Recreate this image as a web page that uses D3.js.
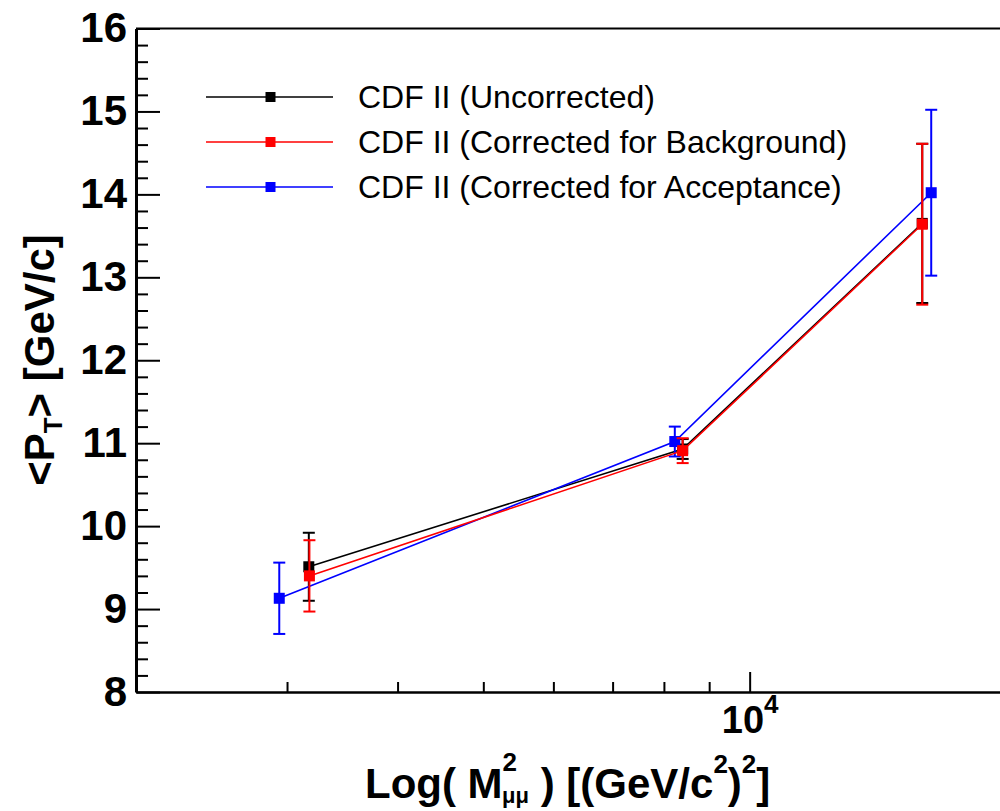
<!DOCTYPE html>
<html>
<head>
<meta charset="utf-8">
<script src="https://cdn.jsdelivr.net/npm/d3@7"></script>
<style>
  html, body { margin: 0; padding: 0; background: #fff; }
  svg { display: block; }
  text { font-family: "Liberation Sans", Arial, Helvetica, sans-serif; }
</style>
</head>
<body>
<svg id="chart" width="1000" height="811"></svg>
<script>
// Mean dimuon transverse momentum vs. squared invariant mass (CDF II)
const seriesNames = ["CDF II (Uncorrected)", "CDF II (Corrected for Background)", "CDF II (Corrected for Acceptance)"];
const seriesColors = ["#000000", "#ff0000", "#0000ff"];

// M^2 (GeV/c^2)^2 positions of the three mass bins, per series
const massUncorrected = [3175, 8400, 15670];
const massBackground  = [3180, 8400, 15670];
const massAcceptance  = [2940, 8230, 16040];

// <pT> values (GeV/c) and their errors
const ptUncorrected = [9.51, 10.93, 13.65];
const errUncorrected = [0.41, 0.12, 0.96];
const ptBackground  = [9.40, 10.91, 13.64];
const errBackground = [0.43, 0.15, 0.97];
const ptAcceptance  = [9.13, 11.02, 14.02];
const errAcceptance = [0.43, 0.18, 1.00];

const yMajorTicks = [8, 9, 10, 11, 12, 13, 14, 15, 16];
const xMajorTicks = [10000];
const xMinorTicks = [3000, 4000, 5000, 6000, 7000, 8000, 9000];

const series = [
  { name: seriesNames[0], color: seriesColors[0], x: massUncorrected, y: ptUncorrected, e: errUncorrected },
  { name: seriesNames[2], color: seriesColors[2], x: massAcceptance,  y: ptAcceptance,  e: errAcceptance },
  { name: seriesNames[1], color: seriesColors[1], x: massBackground,  y: ptBackground,  e: errBackground }
];

const svg = d3.select("#chart");
const plotLeft = 136, plotRight = 1016, plotTop = 28.5, plotBottom = 692;

const x = d3.scaleLog().domain([2025, 20000]).range([plotLeft, plotRight]);
const y = d3.scaleLinear().domain([8, 16]).range([plotBottom, plotTop]);

const yMinorTicks = d3.range(8, 16.001, 0.2).map(v => +v.toFixed(1)).filter(v => !yMajorTicks.includes(v));

// frame: top border
svg.append("line")
  .attr("x1", plotLeft).attr("x2", plotRight)
  .attr("y1", plotTop).attr("y2", plotTop)
  .attr("stroke", "#000").attr("stroke-width", 2);

// y axis (ticks pointing into the plot)
const yAxis = svg.append("g").attr("transform", `translate(${plotLeft},0)`)
  .call(d3.axisLeft(y).tickValues(yMajorTicks).tickSizeInner(-24).tickSizeOuter(0).tickPadding(9).tickFormat(d3.format("d")));
svg.append("g").attr("transform", `translate(${plotLeft},0)`)
  .call(d3.axisLeft(y).tickValues(yMinorTicks).tickSizeInner(-12).tickSizeOuter(0).tickFormat(""))
  .call(g => g.select(".domain").remove());
yAxis.select(".domain").attr("stroke-width", 3);
yAxis.selectAll("text")
  .attr("font-size", 42).attr("font-weight", "bold").attr("fill", "#000")
  .attr("font-family", "Liberation Sans, Arial, sans-serif");

// x axis (log scale)
const xAxis = svg.append("g").attr("transform", `translate(0,${plotBottom})`)
  .call(d3.axisBottom(x).tickValues(xMajorTicks).tickSizeInner(-20).tickSizeOuter(0).tickPadding(14).tickFormat(() => ""));
svg.append("g").attr("transform", `translate(0,${plotBottom})`)
  .call(d3.axisBottom(x).tickValues(xMinorTicks).tickSizeInner(-10).tickSizeOuter(0).tickFormat(""))
  .call(g => g.select(".domain").remove());
xAxis.select(".domain").attr("stroke-width", 2.5);
svg.selectAll("g .tick line").attr("stroke-width", 2);
xAxis.selectAll(".tick text").each(function(d) {
  const t = d3.select(this)
    .attr("font-size", 38).attr("font-weight", "bold").attr("fill", "#000")
    .attr("font-family", "Liberation Sans, Arial, sans-serif");
  t.append("tspan").text(String(10));
  t.append("tspan").attr("font-size", 26).attr("dy", "-0.75em").text(String(Math.round(Math.log10(d))));
});

// axis titles
const yTitle = svg.append("text")
  .attr("transform", "translate(54,360) rotate(-90)")
  .attr("text-anchor", "middle")
  .attr("font-size", 42).attr("font-weight", "bold").attr("fill", "#000");
yTitle.append("tspan").text("<P");
yTitle.append("tspan").attr("font-size", 26).attr("dy", 8).text("T");
yTitle.append("tspan").attr("dy", -8).text("> [GeV/c]");

const xTitle = svg.append("text")
  .attr("x", 365).attr("y", 798)
  .attr("font-size", 42).attr("font-weight", "bold").attr("fill", "#000");
xTitle.append("tspan").text("Log( M");
xTitle.append("tspan").attr("font-size", 26).attr("dy", -27).text("2");
xTitle.append("tspan").attr("font-size", 22).attr("dx", -15).attr("dy", 32).text("μμ");
xTitle.append("tspan").attr("dy", -5).text(" ) [(GeV/c");
xTitle.append("tspan").attr("font-size", 26).attr("dy", -25).text("2");
xTitle.append("tspan").attr("dy", 25).text(")");
xTitle.append("tspan").attr("font-size", 26).attr("dy", -25).text("2");
xTitle.append("tspan").attr("dy", 25).text("]");

// data
const plot = svg.append("g");
const line = d3.line().x(d => x(d[0])).y(d => y(d[1]));
const ms = 11, cap = 6;

series.forEach(s => {
  const pts = s.x.map((xv, i) => [xv, s.y[i], s.e[i]]);
  const g = plot.append("g");
  g.append("path").datum(pts)
    .attr("d", line).attr("fill", "none")
    .attr("stroke", s.color).attr("stroke-width", 1.6);
  const eb = g.selectAll(".eb").data(pts).join("g");
  eb.append("line")
    .attr("x1", d => x(d[0])).attr("x2", d => x(d[0]))
    .attr("y1", d => y(d[1] - d[2])).attr("y2", d => y(d[1] + d[2]))
    .attr("stroke", s.color).attr("stroke-width", 2);
  [-1, 1].forEach(sg => {
    eb.append("line")
      .attr("x1", d => x(d[0]) - cap).attr("x2", d => x(d[0]) + cap)
      .attr("y1", d => y(d[1] + sg * d[2])).attr("y2", d => y(d[1] + sg * d[2]))
      .attr("stroke", s.color).attr("stroke-width", 2);
  });
  eb.append("rect")
    .attr("x", d => x(d[0]) - ms / 2).attr("y", d => y(d[1]) - ms / 2)
    .attr("width", ms).attr("height", ms)
    .attr("fill", s.color);
});

// legend
const legendRows = [0, 1, 2];
const legend = svg.append("g");
legendRows.forEach(i => {
  const ly = 97 + i * 45;
  legend.append("line")
    .attr("x1", 206).attr("x2", 333).attr("y1", ly).attr("y2", ly)
    .attr("stroke", seriesColors[i]).attr("stroke-width", 1.6);
  legend.append("rect")
    .attr("x", 270.5 - 5).attr("y", ly - 5).attr("width", 10).attr("height", 10)
    .attr("fill", seriesColors[i]);
  legend.append("text")
    .attr("x", 358).attr("y", ly + 11)
    .attr("font-size", 32).attr("fill", "#000")
    .text(seriesNames[i]);
});
</script>
</body>
</html>
